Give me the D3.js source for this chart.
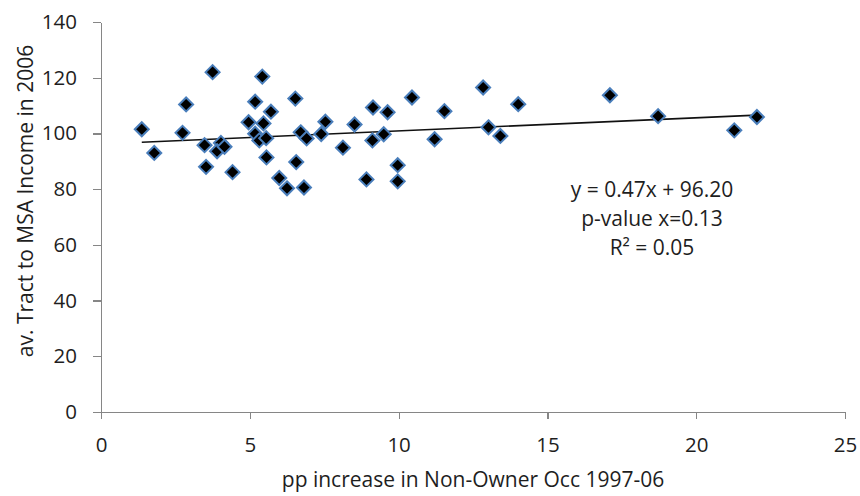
<!DOCTYPE html>
<html>
<head>
    <meta charset="utf-8">
    <title>Non-Owner Occ vs Tract Income</title>
    <script src="https://d3js.org/d3.v7.min.js"></script>
    <style>
        body { margin: 0; background: #fff; }
        text { font-family: "Open Sans", sans-serif; fill: #1e1e1e; }
        .axis path, .axis line { stroke: #868686; stroke-width: 1.2px; shape-rendering: crispEdges; }
        .axis text { font-size: 20.5px; }
        .title { font-size: 21px; }
        .note { font-size: 21px; }
    </style>
</head>
<body>
<div id="chart"></div>
<script>
    // Set up the dimensions of the canvas
    const width = 860;
    const height = 496;
    const margin = { top: 22, right: 15, bottom: 84, left: 101 };

    // pp increase in non-owner occupancy, 1997-06
    const x_values = [
        1.37, 1.79, 2.86, 2.74, 3.75, 3.48, 3.53, 4.03, 3.90, 4.15,
        4.42, 4.96, 5.42, 5.18, 5.71, 5.46, 5.18, 5.32, 5.55, 5.56,
        5.99, 6.25, 6.53, 6.56, 6.82, 6.71, 6.91, 7.40, 7.54, 8.13,
        8.52, 9.14, 9.12, 8.92, 9.50, 9.63, 9.97, 9.97, 10.45, 11.21,
        11.54, 12.84, 13.02, 13.42, 14.02, 17.10, 18.72, 21.28, 22.04
    ];

    // av. tract to MSA income in 2006
    const y_values = [
        101.5, 93.0, 110.4, 100.2, 122.0, 95.8, 88.0, 96.6, 93.6, 95.2,
        86.1, 104.0, 120.4, 111.4, 107.8, 103.6, 99.9, 97.5, 98.3, 91.4,
        84.0, 80.3, 112.5, 89.7, 80.6, 100.4, 98.2, 99.8, 104.2, 94.9,
        103.2, 109.3, 97.5, 83.5, 99.7, 107.6, 88.6, 82.8, 112.9, 97.9,
        108.0, 116.5, 102.2, 99.1, 110.5, 113.7, 106.2, 101.1, 105.9
    ];

    const x_ticks = [0, 5, 10, 15, 20, 25];
    const y_ticks = [0, 20, 40, 60, 80, 100, 120, 140];

    // fitted trend line
    const slope = 0.47;
    const intercept = 96.20;
    const note_lines = ["y = 0.47x + 96.20", "p-value x=0.13", "R\u00b2 = 0.05"];

    const points = x_values.map((x, i) => ({ x: x, y: y_values[i] }));

    const svg = d3.select("#chart")
        .append("svg")
        .attr("width", width)
        .attr("height", height);

    svg.append("rect")
        .attr("width", width)
        .attr("height", height)
        .attr("fill", "#fff");

    const x = d3.scaleLinear()
        .domain([0, 25])
        .range([margin.left, width - margin.right]);

    const y = d3.scaleLinear()
        .domain([0, 140])
        .range([height - margin.bottom, margin.top]);

    // axes
    svg.append("g")
        .attr("class", "axis")
        .attr("transform", `translate(0,${height - margin.bottom})`)
        .call(d3.axisBottom(x).tickValues(x_ticks).tickSize(7).tickSizeOuter(0).tickPadding(18))
        .call(g => g.selectAll("text").attr("fill", "#1e1e1e"));

    svg.append("g")
        .attr("class", "axis")
        .attr("transform", `translate(${margin.left},0)`)
        .call(d3.axisLeft(y).tickValues(y_ticks).tickSize(8).tickSizeOuter(0).tickPadding(16))
        .call(g => g.selectAll("text").attr("fill", "#1e1e1e"));

    // axis titles
    svg.append("text")
        .attr("class", "title")
        .attr("text-anchor", "middle")
        .attr("x", (margin.left + width - margin.right) / 2)
        .attr("y", 487)
        .text("pp increase in Non-Owner Occ 1997-06");

    svg.append("text")
        .attr("class", "title")
        .attr("text-anchor", "middle")
        .attr("transform", "translate(33,201) rotate(-90)")
        .text("av. Tract to MSA Income in 2006");

    // soft edge for markers
    const defs = svg.append("defs");
    defs.append("filter")
        .attr("id", "soft")
        .append("feGaussianBlur")
        .attr("stdDeviation", 0.5);

    // trend line
    const x_min = d3.min(x_values);
    const x_max = d3.max(x_values);
    svg.append("line")
        .attr("x1", x(x_min))
        .attr("y1", y(slope * x_min + intercept))
        .attr("x2", x(x_max))
        .attr("y2", y(slope * x_max + intercept))
        .attr("stroke", "#111")
        .attr("stroke-width", 1.6);

    // diamond markers
    const r = 7;
    svg.append("g")
        .selectAll("path")
        .data(points)
        .enter()
        .append("path")
        .attr("d", `M0,${-r}L${r},0L0,${r}L${-r},0Z`)
        .attr("transform", d => `translate(${x(d.x)},${y(d.y)})`)
        .attr("fill", "#000")
        .attr("stroke", "#4a7ebb")
        .attr("stroke-width", 2)
        .attr("filter", "url(#soft)");

    // regression note
    svg.append("g")
        .selectAll("text")
        .data(note_lines)
        .enter()
        .append("text")
        .attr("class", "note")
        .attr("text-anchor", "middle")
        .attr("x", 652)
        .attr("y", (d, i) => 197 + i * 29)
        .text(d => d);
</script>
</body>
</html>
